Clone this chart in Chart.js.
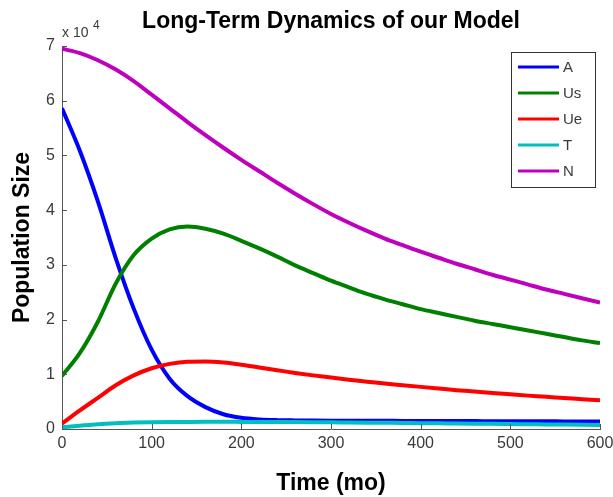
<!DOCTYPE html>
<html><head><meta charset="utf-8">
<script src="https://cdn.jsdelivr.net/npm/chart.js@4/dist/chart.umd.min.js"></script>
<style>html,body{margin:0;padding:0;background:#fff;overflow:hidden}canvas{display:block}</style>
</head><body>
<canvas id="c" width="613" height="497"></canvas>
<script>
// ---- data ----
const months = [0,20,40,60,80,100,120,140,160,180,200,220,240,260,280,300,320,340,360,380,400,420,440,460,480,500,520,540,560,580,600];
const seriesA  = [58600,50800,41600,31200,22000,14500,9200,6000,4000,2700,2050,1750,1620,1570,1540,1520,1510,1500,1490,1480,1470,1460,1450,1440,1430,1420,1410,1400,1390,1380,1370];
const seriesUs = [9700,13900,19600,26600,31800,34800,36500,37000,36600,35700,34400,33000,31500,29900,28500,27100,25900,24700,23700,22800,21900,21200,20500,19800,19200,18600,18000,17400,16800,16200,15700];
const seriesUe = [1000,3400,5700,8000,9800,11100,11900,12300,12350,12150,11750,11250,10750,10250,9800,9400,9000,8650,8300,8000,7700,7400,7100,6850,6600,6350,6100,5900,5650,5450,5250];
const seriesT  = [300,600,880,1060,1170,1240,1280,1300,1310,1310,1300,1290,1280,1260,1240,1220,1190,1160,1130,1100,1060,1030,1000,970,940,900,870,840,810,780,750];
const seriesN  = [69500,68700,67400,65700,63600,61100,58600,56100,53700,51400,49200,47100,45000,43000,41100,39300,37700,36200,34800,33600,32400,31300,30200,29200,28200,27300,26400,25500,24700,23900,23100];
const seriesNames = ['A','Us','Ue','T','N'];
const seriesColors = ['#0000ff','#008000','#ff0000','#00bfbf','#bf00bf'];
const xTicks = [0,100,200,300,400,500,600];
const yTicks = [0,1,2,3,4,5,6,7];
const yExponent = 4;
const chartTitle = 'Long-Term Dynamics of our Model';
const xTitle = 'Time (mo)';
const yTitle = 'Population Size';

const allSeries = [seriesA, seriesUs, seriesUe, seriesT, seriesN];
const axisColor = '#555555';
const labelColor = '#3a3a3a';
const sans = '"Liberation Sans", Arial, sans-serif';
const boldFont = {family: sans, size: 23, weight: 'bold'};

const datasets = allSeries.map((s, i) => ({
  label: seriesNames[i],
  data: months.map((m, k) => ({x: m, y: s[k]})),
  borderColor: seriesColors[i],
  backgroundColor: seriesColors[i],
  borderWidth: 4,
  pointRadius: 0,
  fill: false,
  cubicInterpolationMode: 'monotone',
  order: allSeries.length - i
}));

const decor = {
  id: 'decor',
  afterDatasetsDraw(chart) {
    const {ctx, chartArea: ca, scales: {x, y}} = chart;
    ctx.save();
    // inward tick marks
    ctx.strokeStyle = axisColor; ctx.lineWidth = 1;
    ctx.beginPath();
    y.ticks.forEach(t => { const py = Math.round(y.getPixelForValue(t.value)) + 0.5; ctx.moveTo(ca.left, py); ctx.lineTo(ca.left + 5, py); });
    x.ticks.forEach(t => { const px = Math.round(x.getPixelForValue(t.value)) + 0.5; ctx.moveTo(px, ca.bottom); ctx.lineTo(px, ca.bottom - 5); });
    ctx.stroke();
    // legend box
    const bx = ca.right - 89, by = ca.top + 6, bw = 84, bh = 135;
    ctx.fillStyle = '#fff';
    ctx.fillRect(bx, by, bw, bh);
    ctx.strokeStyle = '#333'; ctx.lineWidth = 1;
    ctx.strokeRect(bx + 0.5, by + 0.5, bw, bh);
    ctx.font = '15px ' + sans;
    ctx.textBaseline = 'middle'; ctx.textAlign = 'left';
    chart.data.datasets.forEach((ds, i) => {
      const ly = by + 15 + i * 26;
      ctx.strokeStyle = ds.borderColor; ctx.lineWidth = 3;
      ctx.beginPath(); ctx.moveTo(bx + 7, ly); ctx.lineTo(bx + 48, ly); ctx.stroke();
      ctx.fillStyle = labelColor;
      ctx.fillText(ds.label, bx + 52, ly + 1);
    });
    ctx.restore();
  },
  afterDraw(chart) {
    const {ctx, chartArea: ca} = chart;
    ctx.save();
    ctx.fillStyle = '#000';
    ctx.font = 'bold 23px ' + sans;
    ctx.textAlign = 'center'; ctx.textBaseline = 'alphabetic';
    ctx.fillText(chartTitle, (ca.left + ca.right) / 2, 28);
    ctx.fillStyle = labelColor;
    ctx.textAlign = 'left';
    ctx.font = '14px ' + sans;
    ctx.fillText('x 10', ca.left, 37);
    ctx.font = '12px ' + sans;
    ctx.fillText(String(yExponent), ca.left + 31, 29);
    ctx.restore();
  }
};

new Chart(document.getElementById('c'), {
  type: 'line',
  data: {datasets},
  plugins: [decor],
  options: {
    responsive: false,
    animation: false,
    devicePixelRatio: 1,
    layout: {padding: {left: 0, top: 46, right: 13, bottom: 0}},
    plugins: {legend: {display: false}, tooltip: {enabled: false}, title: {display: false}},
    scales: {
      x: {
        type: 'linear', min: 0, max: 600,
        afterBuildTicks: s => { s.ticks = xTicks.map(v => ({value: v})); },
        afterFit: s => { s.height = 68; s.paddingLeft = 0; s.paddingRight = 0; },
        grid: {display: false, drawTicks: false},
        border: {display: true, color: axisColor, width: 1},
        ticks: {color: labelColor, padding: 5, maxRotation: 0, autoSkip: false, font: {family: sans, size: 16}},
        title: {display: true, text: xTitle, color: '#000', font: boldFont, padding: {top: 0, bottom: 0}}
      },
      y: {
        type: 'linear', min: 0, max: 70000,
        afterBuildTicks: s => { s.ticks = yTicks.map(v => ({value: v * Math.pow(10, yExponent)})); },
        afterFit: s => { s.width = 62; s.paddingTop = 0; s.paddingBottom = 0; },
        grid: {display: false, drawTicks: false},
        border: {display: true, color: axisColor, width: 1},
        ticks: {color: labelColor, padding: 7, autoSkip: false, font: {family: sans, size: 16},
          callback: v => String(v / Math.pow(10, yExponent))},
        title: {display: true, text: yTitle, color: '#000', font: boldFont, padding: {top: 9, bottom: 0}}
      }
    }
  }
});
</script>
</body></html>
